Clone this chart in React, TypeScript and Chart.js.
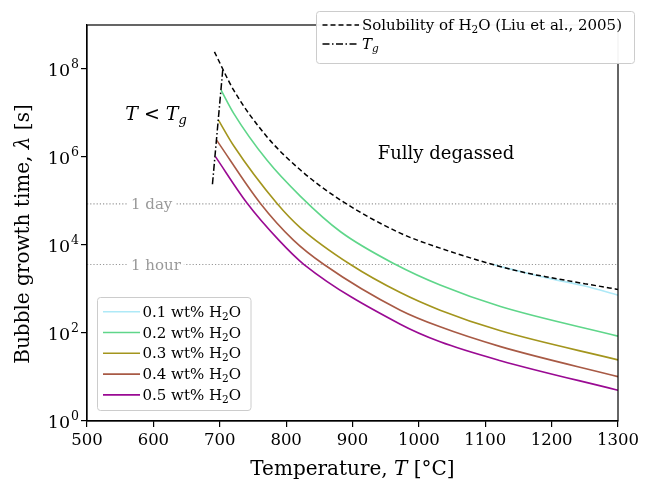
import React, { useEffect, useRef } from "react";
import { Chart, registerables } from "chart.js";

Chart.register(...registerables);

const FONT = '"DejaVu Serif", serif';

// Temperature (°C) and bubble growth time λ (s)
const solT = [692, 721, 771, 822, 882, 972, 1032, 1113, 1163, 1200, 1250, 1300];
const solLambda = [2.45e8, 3.3e7, 2.9e6, 5.0e5, 1.05e5, 1.86e4, 8.5e3, 3.55e3, 2.3e3, 1.8e3, 1.32e3, 980];

const tgT = [689, 704.5];
const tgLambda = [2.4e5, 9.5e7];

const w01T = [1113, 1163, 1200, 1250, 1300];
const w01Lambda = [3.55e3, 2.28e3, 1.7e3, 1.17e3, 725];

const w02T = [702, 721, 771, 822, 882, 965, 1032, 1123, 1300];
const w02Lambda = [3.3e7, 9.8e6, 8.5e5, 1.26e5, 2.0e4, 3.6e3, 1.23e3, 400, 85];

const w03T = [698, 721, 786, 822, 897, 972, 1032, 1123, 1300];
const w03Lambda = [6.9e6, 1.8e6, 8.9e4, 2.43e4, 3.6e3, 830, 330, 112, 24.5];

const w04T = [695, 761, 811, 857, 972, 1032, 1123, 1300];
const w04Lambda = [2.45e6, 8.9e4, 1.29e4, 3.6e3, 330, 138, 49, 10.2];

const w05T = [693.5, 741, 789, 827, 972, 1032, 1123, 1300];
const w05Lambda = [1.02e6, 9.0e4, 1.29e4, 3.6e3, 158, 63, 23.5, 5.0];

const seriesLabels = ["0.1", "0.2", "0.3", "0.4", "0.5"];
const seriesColors = ["#aee9f7", "#5fd68a", "#a3951d", "#a85a45", "#9a0a93"];

const oneDay = 86400;
const oneHour = 3600;
const refLabels = ["1 day", "1 hour"];

const xMin = 500;
const xMax = 1300;
const yMin = 1;
const yMax = 1e9;
const yTicks = [1, 1e2, 1e4, 1e6, 1e8];
const yTickExp = ["0", "2", "4", "6", "8"];

type Part = { t: string; font: string; dy?: number; dx?: number };

function richWidth(ctx: CanvasRenderingContext2D, parts: Part[]) {
  let w = 0;
  for (const p of parts) {
    ctx.font = p.font;
    w += ctx.measureText(p.t).width + (p.dx || 0);
  }
  return w;
}

function drawRich(
  ctx: CanvasRenderingContext2D,
  parts: Part[],
  x: number,
  y: number,
  align: "left" | "center" | "right"
) {
  const w = richWidth(ctx, parts);
  let cx = align === "left" ? x : align === "center" ? x - w / 2 : x - w;
  ctx.textAlign = "left";
  ctx.textBaseline = "alphabetic";
  for (const p of parts) {
    ctx.font = p.font;
    cx += p.dx || 0;
    ctx.fillText(p.t, cx, y + (p.dy || 0));
    cx += ctx.measureText(p.t).width;
  }
  return w;
}

function roundRect(ctx: CanvasRenderingContext2D, x: number, y: number, w: number, h: number, r: number) {
  ctx.beginPath();
  ctx.moveTo(x + r, y);
  ctx.lineTo(x + w - r, y);
  ctx.arcTo(x + w, y, x + w, y + r, r);
  ctx.lineTo(x + w, y + h - r);
  ctx.arcTo(x + w, y + h, x + w - r, y + h, r);
  ctx.lineTo(x + r, y + h);
  ctx.arcTo(x, y + h, x, y + h - r, r);
  ctx.lineTo(x, y + r);
  ctx.arcTo(x, y, x + r, y, r);
  ctx.closePath();
}

const mk = (T: number[], L: number[]) => T.map((t, i) => ({ x: t, y: L[i] }));

const f = (size: number, italic = false) => `${italic ? "italic " : ""}${size}px ${FONT}`;

const decoPlugin = {
  id: "deco",
  afterDraw(chart: any) {
    const ctx: CanvasRenderingContext2D = chart.ctx;
    const a = chart.chartArea;
    const ys = chart.scales.y;
    ctx.save();

    // frame
    ctx.strokeStyle = "#000";
    ctx.lineWidth = 1.2;
    ctx.setLineDash([]);
    ctx.strokeRect(a.left, a.top, a.right - a.left, a.bottom - a.top);

    // y tick labels
    ctx.fillStyle = "#000";
    yTicks.forEach((v, i) => {
      const py = ys.getPixelForValue(v);
      drawRich(
        ctx,
        [
          { t: "10", font: f(17.5) },
          { t: yTickExp[i], font: f(12.5), dy: -8, dx: 1 },
        ],
        a.left - 8,
        py + 6.5,
        "right"
      );
    });

    // axis titles
    drawRich(
      ctx,
      [
        { t: "Temperature, ", font: f(20) },
        { t: "T", font: f(20, true) },
        { t: " [°C]", font: f(20) },
      ],
      (a.left + a.right) / 2,
      475,
      "center"
    );
    ctx.save();
    ctx.translate(29, 234);
    ctx.rotate(-Math.PI / 2);
    drawRich(
      ctx,
      [
        { t: "Bubble growth time, ", font: f(20) },
        { t: "λ", font: f(20, true) },
        { t: " [s]", font: f(20) },
      ],
      0,
      0,
      "center"
    );
    ctx.restore();

    // reference line labels
    [oneDay, oneHour].forEach((v, i) => {
      const py = ys.getPixelForValue(v);
      ctx.font = f(15);
      const w = ctx.measureText(refLabels[i]).width;
      const x0 = 131;
      ctx.fillStyle = "#fff";
      ctx.fillRect(x0 - 3, py - 9, w + 6, 18);
      ctx.fillStyle = "#999";
      drawRich(ctx, [{ t: refLabels[i], font: f(15) }], x0, py + 5, "left");
    });

    // annotations
    ctx.fillStyle = "#000";
    drawRich(
      ctx,
      [
        { t: "T", font: f(19, true) },
        { t: " < ", font: f(19) },
        { t: "T", font: f(19, true) },
        { t: "g", font: f(13, true), dy: 4 },
      ],
      156,
      120,
      "center"
    );
    drawRich(ctx, [{ t: "Fully degassed", font: f(18) }], 446, 159, "center");

    // top-right legend
    ctx.fillStyle = "rgba(255,255,255,0.95)";
    roundRect(ctx, 316.5, 11.5, 318, 52, 3);
    ctx.fill();
    ctx.strokeStyle = "#cccccc";
    ctx.lineWidth = 1;
    ctx.stroke();

    const topRows = [25, 44];
    ctx.strokeStyle = "#000";
    ctx.lineWidth = 1.5;
    ctx.setLineDash([5, 3]);
    ctx.beginPath();
    ctx.moveTo(322.5, topRows[0]);
    ctx.lineTo(359, topRows[0]);
    ctx.stroke();
    ctx.setLineDash([7, 2.5, 1.5, 2.5]);
    ctx.beginPath();
    ctx.moveTo(322.5, topRows[1]);
    ctx.lineTo(359, topRows[1]);
    ctx.stroke();
    ctx.setLineDash([]);
    ctx.fillStyle = "#000";
    drawRich(
      ctx,
      [
        { t: "Solubility of H", font: f(15) },
        { t: "2", font: f(10.5), dy: 3 },
        { t: "O (Liu et al., 2005)", font: f(15) },
      ],
      362,
      topRows[0] + 5,
      "left"
    );
    drawRich(
      ctx,
      [
        { t: "T", font: f(15, true) },
        { t: "g", font: f(10.5, true), dy: 3 },
      ],
      362,
      topRows[1] + 5,
      "left"
    );

    // bottom-left legend
    ctx.fillStyle = "rgba(255,255,255,0.95)";
    roundRect(ctx, 97.5, 297.5, 153.5, 113, 3);
    ctx.fill();
    ctx.strokeStyle = "#cccccc";
    ctx.lineWidth = 1;
    ctx.stroke();
    seriesLabels.forEach((lab, i) => {
      const yy = 311.7 + i * 20.8;
      ctx.strokeStyle = seriesColors[i];
      ctx.lineWidth = 1.6;
      ctx.beginPath();
      ctx.moveTo(103, yy);
      ctx.lineTo(140, yy);
      ctx.stroke();
      ctx.fillStyle = "#000";
      drawRich(
        ctx,
        [
          { t: `${lab} wt% H`, font: f(15) },
          { t: "2", font: f(10.5), dy: 3 },
          { t: "O", font: f(15) },
        ],
        142.5,
        yy + 5,
        "left"
      );
    });

    ctx.restore();
  },
};

export default function App() {
  const ref = useRef<HTMLCanvasElement>(null);

  useEffect(() => {
    const curveData = [
      mk(w01T, w01Lambda),
      mk(w02T, w02Lambda),
      mk(w03T, w03Lambda),
      mk(w04T, w04Lambda),
      mk(w05T, w05Lambda),
    ];
    const curves = curveData.map((d, i) => ({
      label: `${seriesLabels[i]} wt% H2O`,
      data: d,
      borderColor: seriesColors[i],
      borderWidth: 1.6,
      pointRadius: 0,
      fill: false,
      cubicInterpolationMode: "monotone" as const,
    }));
    const chart = new Chart(ref.current!, {
      type: "line",
      data: {
        datasets: [
          {
            label: "Solubility of H2O (Liu et al., 2005)",
            data: mk(solT, solLambda),
            borderColor: "#000",
            borderWidth: 1.5,
            borderDash: [5, 3],
            pointRadius: 0,
            fill: false,
            cubicInterpolationMode: "monotone",
          },
          {
            label: "Tg",
            data: mk(tgT, tgLambda),
            borderColor: "#000",
            borderWidth: 1.5,
            borderDash: [7, 2.5, 1.5, 2.5],
            pointRadius: 0,
            fill: false,
          },
          ...curves,
          {
            label: "1 day",
            data: [
              { x: xMin, y: oneDay },
              { x: xMax, y: oneDay },
            ],
            borderColor: "#999",
            borderWidth: 1.2,
            borderDash: [1.2, 2],
            pointRadius: 0,
            fill: false,
          },
          {
            label: "1 hour",
            data: [
              { x: xMin, y: oneHour },
              { x: xMax, y: oneHour },
            ],
            borderColor: "#999",
            borderWidth: 1.2,
            borderDash: [1.2, 2],
            pointRadius: 0,
            fill: false,
          },
        ],
      },
      options: {
        animation: false,
        responsive: false,
        maintainAspectRatio: false,
        devicePixelRatio: 1,
        layout: { padding: { top: 25, right: 32, left: 0, bottom: 0 } },
        plugins: {
          legend: { display: false },
          tooltip: { enabled: false },
        },
        scales: {
          x: {
            type: "linear",
            min: xMin,
            max: xMax,
            ticks: {
              stepSize: 100,
              color: "#000",
              font: { family: FONT, size: 16.5 },
              padding: 4,
              maxRotation: 0,
              callback: (v: any) => String(v),
            },
            grid: {
              display: true,
              drawOnChartArea: false,
              drawTicks: true,
              tickLength: 6,
              color: "#000",
              lineWidth: 1.2,
            },
            border: { display: true, color: "#000", width: 1.2 },
            afterFit: (s: any) => {
              s.height = 63;
            },
          },
          y: {
            type: "logarithmic",
            min: yMin,
            max: yMax,
            afterBuildTicks: (s: any) => {
              s.ticks = yTicks.map((v) => ({ value: v, major: true }));
            },
            ticks: { display: false, autoSkip: false },
            grid: {
              display: true,
              drawOnChartArea: false,
              drawTicks: true,
              tickLength: 6,
              color: "#000",
              lineWidth: 1.2,
            },
            border: { display: true, color: "#000", width: 1.2 },
            afterFit: (s: any) => {
              s.width = 87;
            },
          },
        },
      },
      plugins: [decoPlugin],
    });
    return () => chart.destroy();
  }, []);

  return (
    <div style={{ position: "absolute", left: 0, top: 0, width: 650, height: 484, background: "#fff" }}>
      <canvas ref={ref} width={650} height={484} style={{ width: 650, height: 484, display: "block" }} />
    </div>
  );
}
